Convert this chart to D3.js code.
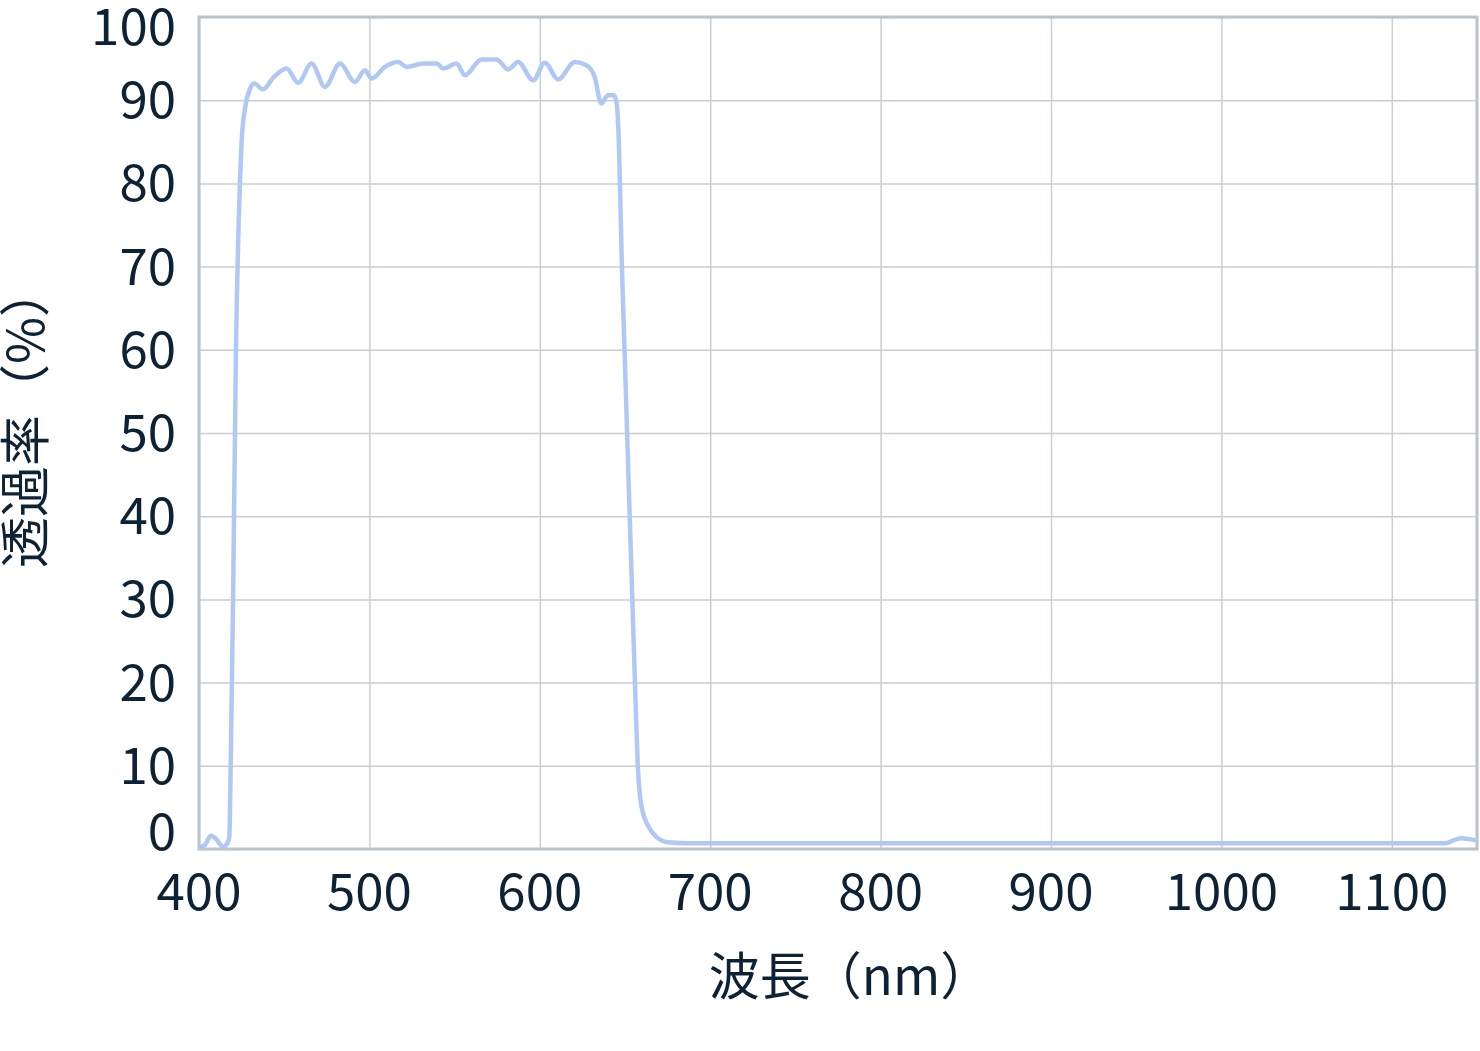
<!DOCTYPE html>
<html>
<head>
<meta charset="utf-8">
<script src="https://cdn.jsdelivr.net/npm/d3@7"></script>
<style>
  body { margin: 0; background: #fff; }
  text { font-family: "Noto Sans CJK JP", "Noto Sans", sans-serif; fill: #0d2235; }
</style>
</head>
<body>
<svg width="1480" height="1051"></svg>
<script>
// wavelength (nm) and transmittance (%)
var wavelength = [400, 403, 407, 410, 414, 417, 417.8, 418.6, 420, 421.7, 424, 425, 427, 430, 432.5, 437.5,
  444, 451.4, 458.2, 466.1, 473.9, 482.7, 491.5, 497.3, 501.3, 509.1, 516.9, 521.8, 531.5, 539.4,
  543.3, 551.2, 556, 565.8, 574.6, 581.4, 587.3, 596.1, 603, 610.8, 620.5, 627.4, 632.2, 636.1,
  640, 643.5, 645.2, 646.2, 648.2, 650.2, 652.3, 654.3, 656, 657.5, 659, 660.5, 663, 666, 670, 675,
  685, 800, 1000, 1132, 1137, 1141, 1145, 1150];
var transmittance = [0.3, 0.4, 1.6, 1.2, 0.3, 0.8, 1.5, 10, 30, 60, 80, 85, 89, 91.4, 92.0, 91.3,
  92.8, 93.8, 92.1, 94.4, 91.6, 94.4, 92.2, 93.6, 92.6, 94.0, 94.6, 94.0, 94.4, 94.4,
  93.8, 94.4, 93.0, 94.9, 94.9, 93.7, 94.6, 92.4, 94.5, 92.5, 94.6, 94.2, 92.8, 89.6,
  90.6, 90.6, 89.5, 86, 70, 57, 43, 30, 19, 10, 6, 4.4, 3, 2, 1.2, 0.8,
  0.7, 0.7, 0.7, 0.7, 1.1, 1.3, 1.2, 1.0];

var xTicks = [400, 500, 600, 700, 800, 900, 1000, 1100];
var yTicks = [0, 10, 20, 30, 40, 50, 60, 70, 80, 90, 100];
var xTitle = "波長（nm）";
var yTitle = "透過率（%）";

var svg = d3.select("svg");
var plotLeft = 199, plotTop = 17, plotRight = 1477, plotBottom = 849;

var x = d3.scaleLinear().domain([400, 1150]).range([plotLeft, plotRight]);
var y = d3.scaleLinear().domain([0, 100]).range([plotBottom, plotTop]);

var data = wavelength.map(function (w, i) { return { w: w, t: transmittance[i] }; });

// grid lines
svg.append("g")
    .attr("transform", "translate(0," + plotBottom + ")")
    .call(d3.axisBottom(x).tickValues(xTicks).tickSize(-(plotBottom - plotTop)).tickFormat(""))
    .call(function (g) { g.select(".domain").remove(); })
    .selectAll("line").attr("stroke", "#c8ced4").attr("stroke-width", 1.5);

svg.append("g")
    .attr("transform", "translate(" + plotLeft + ",0)")
    .call(d3.axisLeft(y).tickValues(yTicks).tickSize(-(plotRight - plotLeft)).tickFormat(""))
    .call(function (g) { g.select(".domain").remove(); })
    .selectAll("line").attr("stroke", "#c8ced4").attr("stroke-width", 1.5);

// plot frame
svg.append("rect")
    .attr("x", plotLeft).attr("y", plotTop)
    .attr("width", plotRight - plotLeft).attr("height", plotBottom - plotTop)
    .attr("fill", "none").attr("stroke", "#bac3ca").attr("stroke-width", 3);

// transmittance curve
var line = d3.line()
    .x(function (d) { return x(d.w); })
    .y(function (d) { return y(d.t); })
    .curve(d3.curveMonotoneX);

svg.append("path")
    .datum(data)
    .attr("d", line)
    .attr("fill", "none")
    .attr("stroke", "#b0c9f4")
    .attr("stroke-width", 4.5)
    .attr("stroke-linejoin", "round");

// tick labels
svg.append("g").selectAll("text")
    .data(xTicks).enter().append("text")
    .attr("x", function (d) { return x(d); })
    .attr("y", plotBottom + 39)
    .attr("text-anchor", "middle")
    .attr("dominant-baseline", "central")
    .attr("font-size", "51px")
    .text(function (d) { return d; });

svg.append("g").selectAll("text")
    .data(yTicks).enter().append("text")
    .attr("x", plotLeft - 23)
    .attr("y", function (d) { return Math.min(Math.max(y(d) - 4, plotTop + 6), plotBottom - 21); })
    .attr("text-anchor", "end")
    .attr("dominant-baseline", "central")
    .attr("font-size", "51px")
    .text(function (d) { return d; });

// axis titles
svg.append("text")
    .attr("x", (plotLeft + plotRight) / 2 + 12)
    .attr("y", 973)
    .attr("text-anchor", "middle")
    .attr("dominant-baseline", "central")
    .attr("font-size", "51px")
    .text(xTitle);

svg.append("text")
    .attr("transform", "translate(22," + ((plotTop + plotBottom) / 2 - 16) + ") rotate(-90)")
    .attr("text-anchor", "middle")
    .attr("dominant-baseline", "central")
    .attr("font-size", "51px")
    .text(yTitle);
</script>
</body>
</html>
